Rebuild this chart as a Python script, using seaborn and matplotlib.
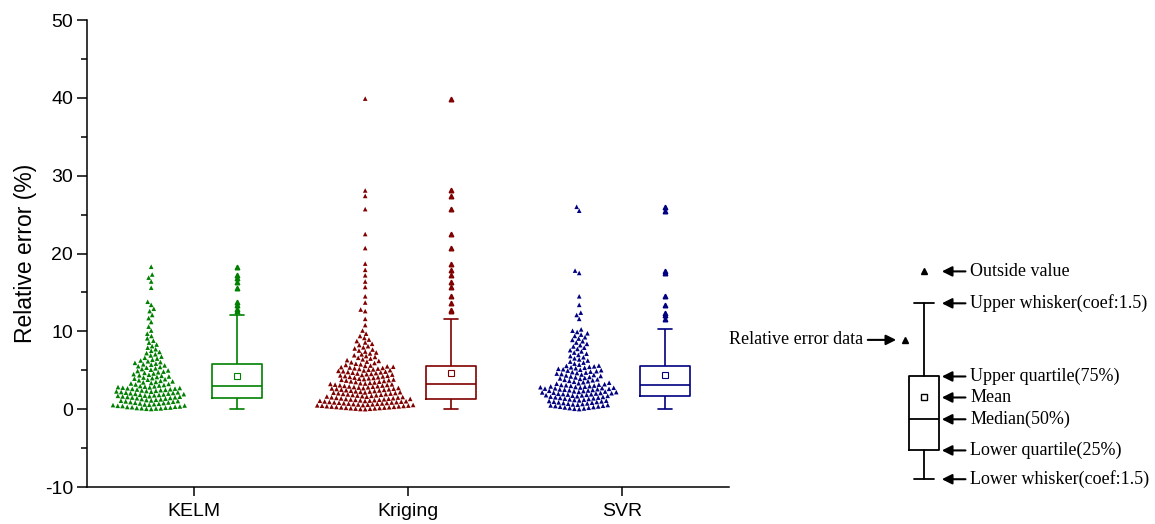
import numpy as np
import pandas as pd
import matplotlib
matplotlib.use("Agg")
import matplotlib.pyplot as plt
from matplotlib.ticker import MultipleLocator
import seaborn as sns

# ---------------- data (relative error, %) ----------------
models = ["KELM", "Kriging", "SVR"]
colors = ["#008000", "#800000", "#000080"]

kelm = [
    0.02, 0.05, 0.08, 0.10, 0.12, 0.15, 0.18, 0.21, 0.25, 0.28, 0.31, 0.35, 0.40,
    0.43, 0.47, 0.52, 0.56, 0.60, 0.64, 0.69, 0.73, 0.78, 0.82, 0.86, 0.91, 0.95,
    1.00, 1.04, 1.08, 1.12, 1.17, 1.21, 1.26, 1.30, 1.35, 1.40, 1.44, 1.49,
    1.52, 1.56, 1.60, 1.63, 1.67, 1.71, 1.74, 1.78, 1.82, 1.85, 1.89, 1.93, 1.97,
    2.00, 2.04, 2.08, 2.12, 2.16, 2.20, 2.24, 2.28, 2.32, 2.36, 2.40, 2.44, 2.48,
    2.52, 2.56, 2.60, 2.64, 2.68, 2.72, 2.76, 2.80, 2.84, 2.89, 2.93,
    2.97, 3.04, 3.10, 3.17, 3.24, 3.30, 3.37, 3.44, 3.50, 3.57, 3.64, 3.71, 3.78,
    3.85, 3.92, 3.99, 4.06, 4.13, 4.20, 4.28, 4.35, 4.42, 4.50, 4.58, 4.66, 4.74,
    4.82, 4.90, 4.98, 5.07, 5.15, 5.24, 5.33, 5.42, 5.52, 5.62, 5.72,
    5.76, 5.85, 5.95, 6.05, 6.15, 6.25, 6.35, 6.50, 6.60, 6.75, 6.90, 7.05, 7.20,
    7.35, 7.50, 7.70, 7.90, 8.10, 8.30, 8.55, 8.80, 9.10, 9.40, 9.70, 10.1, 10.6,
    11.2, 11.7, 12.1,
    12.6, 12.9, 13.4, 13.8, 15.6, 16.4, 16.9, 17.3, 18.3,
]

kriging = [
    0.00, 0.02, 0.05, 0.07, 0.10, 0.12, 0.15, 0.17, 0.20, 0.23, 0.25, 0.28, 0.30,
    0.33, 0.36, 0.38, 0.41, 0.44, 0.46, 0.49, 0.52, 0.54, 0.57, 0.60, 0.62, 0.65,
    0.68, 0.71, 0.73, 0.76, 0.79, 0.82, 0.85, 0.87, 0.90, 0.93, 0.96, 0.99, 1.02,
    1.05, 1.08, 1.10, 1.13, 1.16, 1.19, 1.21, 1.24, 1.27, 1.30, 1.32,
    1.34, 1.38, 1.41, 1.45, 1.49, 1.52, 1.56, 1.60, 1.63, 1.67, 1.71, 1.74, 1.78,
    1.82, 1.85, 1.89, 1.93, 1.96, 2.00, 2.04, 2.07, 2.11, 2.15, 2.18, 2.22, 2.26,
    2.29, 2.33, 2.37, 2.40, 2.44, 2.48, 2.51, 2.55, 2.59, 2.62, 2.66, 2.70, 2.73,
    2.77, 2.81, 2.84, 2.88, 2.92, 2.95, 2.99, 3.03, 3.07, 3.11, 3.15,
    3.19, 3.24, 3.29, 3.33, 3.38, 3.43, 3.48, 3.53, 3.57, 3.62, 3.67, 3.72, 3.77,
    3.81, 3.86, 3.91, 3.96, 4.01, 4.05, 4.10, 4.15, 4.20, 4.25, 4.29, 4.34, 4.39,
    4.44, 4.49, 4.53, 4.58, 4.63, 4.68, 4.73, 4.77, 4.82, 4.87, 4.92, 4.97, 5.01,
    5.06, 5.11, 5.16, 5.21, 5.25, 5.30, 5.35, 5.40, 5.45, 5.50, 5.56,
    5.60, 5.68, 5.76, 5.84, 5.93, 6.02, 6.11, 6.20, 6.30, 6.40, 6.50, 6.60, 6.71,
    6.82, 6.93, 7.04, 7.16, 7.28, 7.40, 7.53, 7.66, 7.80, 7.94, 8.09, 8.24, 8.40,
    8.57, 8.75, 8.94, 9.15, 9.40, 9.70, 10.1, 10.8, 11.6,
    12.6, 12.8, 13.7, 14.5, 15.7, 16.4, 17.2, 17.9, 18.7, 20.7, 22.5, 25.7, 27.4,
    28.1, 39.9,
]

svr = [
    0.01, 0.05, 0.09, 0.14, 0.18, 0.22, 0.27, 0.31, 0.35, 0.40, 0.44, 0.48, 0.53,
    0.57, 0.61, 0.66, 0.70, 0.74, 0.79, 0.83, 0.87, 0.92, 0.96, 1.00, 1.05, 1.09,
    1.13, 1.18, 1.22, 1.26, 1.31, 1.35, 1.39, 1.44, 1.48, 1.52, 1.57, 1.61, 1.66,
    1.71,
    1.73, 1.77, 1.80, 1.84, 1.87, 1.91, 1.94, 1.98, 2.01, 2.05, 2.08, 2.12, 2.15,
    2.19, 2.22, 2.26, 2.29, 2.33, 2.36, 2.40, 2.43, 2.47, 2.50, 2.54, 2.57, 2.61,
    2.64, 2.68, 2.71, 2.75, 2.78, 2.82, 2.85, 2.89, 2.92, 2.96, 2.99, 3.03, 3.07,
    3.11,
    3.15, 3.21, 3.27, 3.33, 3.40, 3.46, 3.52, 3.58, 3.64, 3.71, 3.77, 3.83, 3.89,
    3.95, 4.02, 4.08, 4.14, 4.20, 4.26, 4.33, 4.39, 4.45, 4.51, 4.57, 4.64, 4.70,
    4.76, 4.82, 4.88, 4.95, 5.01, 5.07, 5.13, 5.19, 5.26, 5.32, 5.38, 5.44, 5.50,
    5.56,
    5.60, 5.72, 5.85, 5.98, 6.11, 6.25, 6.39, 6.53, 6.67, 6.82, 6.97, 7.12, 7.27,
    7.42, 7.58, 7.74, 7.90, 8.06, 8.22, 8.39, 8.56, 8.73, 8.90, 9.07, 9.24, 9.41,
    9.58, 9.75, 9.92, 10.08, 10.25,
    11.6, 12.1, 12.4, 13.4, 14.5, 17.5, 17.8, 25.5, 26.0,
]

# schematic legend box (values on the same y scale)
legend_stats = dict(whislo=-9.0, q1=-5.3, med=-1.3, mean=1.5, q3=4.2,
                    whishi=13.6, fliers=[17.7])
legend_sample = 8.9
legend_labels = [
    ("Outside value", 17.7),
    ("Upper whisker(coef:1.5)", 13.6),
    ("Upper quartile(75%)", 4.2),
    ("Mean", 1.5),
    ("Median(50%)", -1.3),
    ("Lower quartile(25%)", -5.3),
    ("Lower whisker(coef:1.5)", -9.0),
]
y_ticks = [-10, 0, 10, 20, 30, 40, 50]

# ---------------- style ----------------
sns.set_theme(style="ticks", rc={
    "axes.edgecolor": "black", "xtick.color": "black", "ytick.color": "black",
    "text.color": "black", "axes.labelcolor": "black",
})
plt.rcParams["font.family"] = ["Liberation Sans", "DejaVu Sans"]
plt.rcParams["axes.unicode_minus"] = False

W, H = 1155, 524
fig = plt.figure(figsize=(W / 100, H / 100), dpi=100)
ax = fig.add_axes([87 / W, 37 / H, (729 - 87) / W, (487 - 20) / H])

rows = []
for m, vals in zip(models, [kelm, kriging, svr]):
    for v in vals:
        rows.append((m, "points", v))
        rows.append((m, "box", v))
df = pd.DataFrame(rows, columns=["model", "kind", "value"])
kinds = ["points", "box"]

for m, c in zip(models, colors):
    sub = df[df["model"] == m]
    pal = {k: c for k in kinds}
    sns.swarmplot(data=sub[sub["kind"] == "points"], x="model", y="value",
                  hue="kind", order=models, hue_order=kinds, dodge=True,
                  palette=pal, marker="^", size=3.3, linewidth=0,
                  legend=False, warn_thresh=1, ax=ax)
    sns.boxplot(data=sub[sub["kind"] == "box"], x="model", y="value",
                hue="kind", order=models, hue_order=kinds, dodge=True,
                palette=pal, fill=False, gap=0.415, linewidth=1.2, whis=1.5,
                showmeans=True,
                meanprops=dict(marker="s", markerfacecolor="white",
                               markeredgecolor=c, markersize=5,
                               markeredgewidth=0.8),
                flierprops=dict(marker="^", markerfacecolor=c,
                                markeredgecolor=c, markersize=3.3),
                capwidths=0.065, legend=False, ax=ax)

ax.set_xlim(-0.5, 2.5)
ax.set_ylim(-10, 50)
ax.set_yticks(y_ticks)
ax.yaxis.set_minor_locator(MultipleLocator(5))
ax.set_xlabel("")
ax.set_ylabel("Relative error (%)", fontsize=16.5, labelpad=6)
for s in ["top", "right"]:
    ax.spines[s].set_visible(False)
for s in ["left", "bottom"]:
    ax.spines[s].set_linewidth(1.1)
ax.tick_params(axis="y", which="major", direction="out", length=7, width=1.1,
               labelsize=14, pad=3)
ax.tick_params(axis="y", which="minor", direction="out", length=4, width=1.1)
ax.tick_params(axis="x", which="major", direction="out", length=6.5, width=1.1,
               labelsize=14, pad=5)

# ---------------- schematic legend ----------------
lax = fig.add_axes([720 / W, 37 / H, 435 / W, (487 - 20) / H])
lax.set_ylim(-10, 50)
lax.set_xlim(0, 1)
lax.axis("off")
bx = 0.469
lax.bxp([legend_stats], positions=[bx], widths=[0.069], capwidths=[0.044],
        showmeans=True, manage_ticks=False,
        boxprops=dict(color="black", linewidth=1.3),
        whiskerprops=dict(color="black", linewidth=1.3),
        capprops=dict(color="black", linewidth=1.3),
        medianprops=dict(color="black", linewidth=1.3),
        meanprops=dict(marker="s", markerfacecolor="white",
                       markeredgecolor="black", markersize=4,
                       markeredgewidth=1.0),
        flierprops=dict(marker="^", markerfacecolor="black",
                        markeredgecolor="black", markersize=5))
lax.plot([0.425], [legend_sample], marker="^", color="black", markersize=5,
         linestyle="none")

serif = ["Liberation Serif", "DejaVu Serif"]
arrow = dict(arrowstyle="-|>", color="black", lw=1.5, shrinkA=1, shrinkB=0,
             mutation_scale=15, relpos=(0, 0.5))
for text, yv in legend_labels:
    lax.annotate(text, xy=(0.51, yv), xytext=(0.575, yv), ha="left",
                 va="center", fontsize=13, family=serif, arrowprops=arrow)
lax.annotate("Relative error data", xy=(0.405, legend_sample),
             xytext=(0.329, legend_sample), ha="right", va="center",
             fontsize=13, family=serif,
             arrowprops=dict(arrowstyle="-|>", color="black", lw=1.5,
                             shrinkA=1, shrinkB=0, mutation_scale=15,
                             relpos=(1, 0.5)))

fig.savefig("out.png", dpi=100)
